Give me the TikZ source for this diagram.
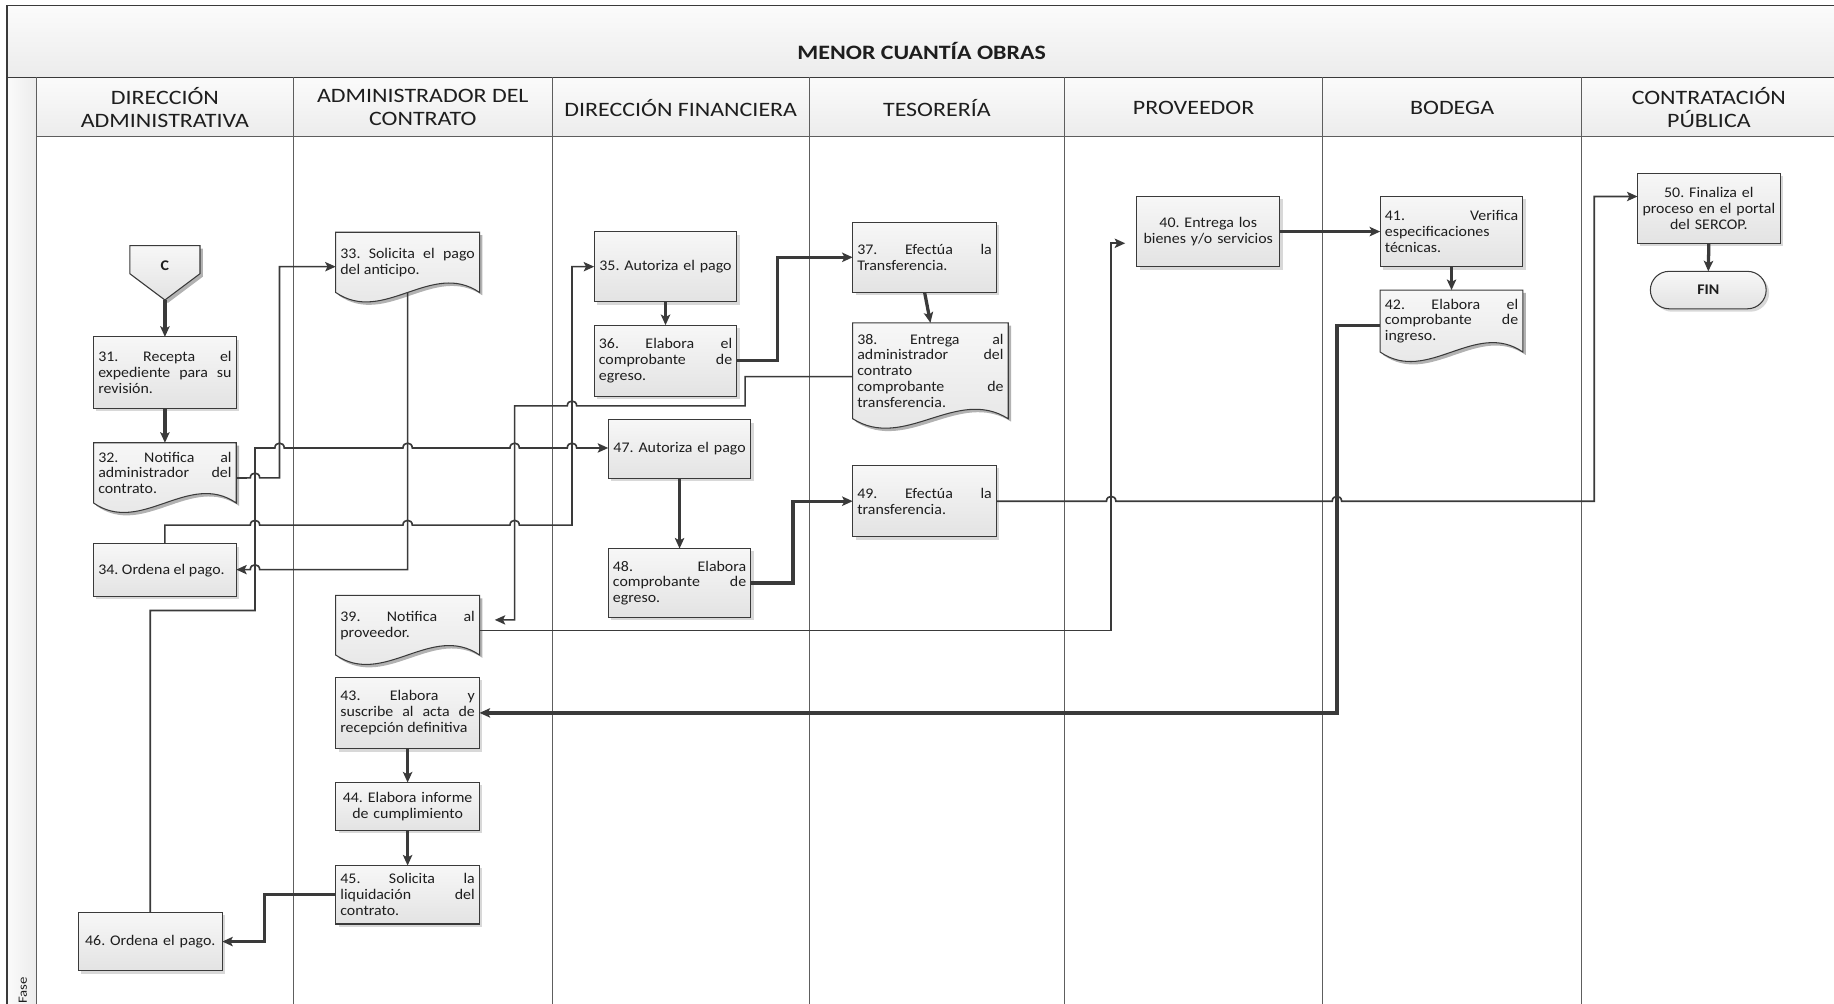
\documentclass[tikz,border=0pt]{standalone}
\usepackage{fontspec}
\setmainfont{Carlito}[FakeStretch=1.17]
\newfontfamily\boxfam{Carlito}[FakeStretch=1.08]
\usetikzlibrary{arrows.meta,shadows,calc}
\tolerance=10000 \hbadness=10000 \hyphenpenalty=10000 \exhyphenpenalty=10000
\frenchspacing
\definecolor{ink}{HTML}{3A3A3A}
\definecolor{laneline}{HTML}{5E5E5E}
\definecolor{boxtop}{HTML}{F7F7F7}
\definecolor{boxbot}{HTML}{E3E3E3}
\definecolor{headtop}{HTML}{FBFBFB}
\definecolor{headbot}{HTML}{ECECEC}
\definecolor{txt}{HTML}{1E1E1E}
\newcommand\fntbox{\boxfam\fontsize{12.6}{13.6}\selectfont\frenchspacing}
\newcommand\fnthead{\fontsize{17.5}{19.5}\selectfont}
\newcommand\fnttitle{\fontsize{17.5}{20}\selectfont\bfseries}
\newcommand\fntfase{\fontsize{10.8}{13}\selectfont}
% outline of a document shape (wavy bottom) around a node
\newcommand\docpath[1]{(#1.north west) -- (#1.south west)
  .. controls ($(#1.south west)!0.3333!(#1.south east)+(0,28)$)
  and ($(#1.south west)!0.6667!(#1.south east)+(0,-28)$) .. (#1.south east)
  -- (#1.north east) -- cycle}
\pgfdeclarelayer{lanes}
\pgfdeclarelayer{shapes}
\pgfsetlayers{lanes,shapes,main}
\tikzset{
  boxstyle/.style={rectangle, draw=ink, line width=0.9pt, top color=boxtop, bottom color=boxbot,
    drop shadow={shadow xshift=2.5pt, shadow yshift=-2.5pt, opacity=0.3},
    font=\fntbox, text=txt, inner xsep=4pt, inner ysep=1pt, outer sep=0pt},
  jbox/.style={boxstyle, align=justify},
  cbox/.style={boxstyle, align=center},
  docnode/.style={rectangle, draw=none, font=\fntbox, text=txt, inner xsep=4pt, inner ysep=1pt,
    outer sep=0pt, align=justify},
  shapefill/.style={draw=ink, line width=0.9pt, top color=boxtop, bottom color=boxbot},
  shapeshadow/.style={fill=black, opacity=0.3, transform canvas={shift={(2.5pt,-2.5pt)}}},
  flow/.style={draw=ink, line width=1.4pt, -{Stealth[length=9pt,width=8pt,inset=2pt]}},
  flowthick/.style={flow, line width=2.8pt},
  hopR/.style 2 args={insert path={-- (#1-4,#2) .. controls (#1-4,#2-5.5) and (#1+4,#2-5.5) .. (#1+4,#2)}},
  hopL/.style 2 args={insert path={-- (#1+4,#2) .. controls (#1+4,#2-5.5) and (#1-4,#2-5.5) .. (#1-4,#2)}},
  lane/.style={draw=laneline, line width=0.9pt},
  frameline/.style={draw=ink, line width=1.1pt},
  headlabel/.style={font=\fnthead, text=txt, align=center},
}
\begin{document}
\begin{tikzpicture}[x=1pt,y=-1pt]
\useasboundingbox (0,0) rectangle (1568,858);

% ---------- pool, title band, lane headers ----------
\begin{pgfonlayer}{lanes}
  \fill[white] (0,0) rectangle (1568,858);
  \shade[top color=headtop, bottom color=headbot] (6,5) rectangle (1568,66);
  \shade[top color=headtop, bottom color=headbot] (31,66) rectangle (1568,117);
  \shade[left color=headtop, right color=headbot] (6,66) rectangle (31,858);
  \draw[frameline] (1568,5) -- (6,5) -- (6,858);
  \draw[frameline] (6,66) -- (1568,66);
  \draw[lane] (31,117) -- (1568,117);
  \foreach \lx in {31,251,472,692,910,1131,1352}
    \draw[lane] (\lx,66) -- (\lx,858);
\end{pgfonlayer}

\node[font=\fnttitle, text=txt] (title) at (788,44) {MENOR CUANTÍA OBRAS};
\node[headlabel] (h1) at (141,92) {DIRECCIÓN\\ADMINISTRATIVA};
\node[headlabel] (h2) at (361.5,92) {ADMINISTRADOR DEL\\CONTRATO};
\node[headlabel] (h3) at (582,92) {DIRECCIÓN FINANCIERA};
\node[headlabel] (h4) at (801,92) {TESORERÍA};
\node[headlabel] (h5) at (1020.5,92) {PROVEEDOR};
\node[headlabel] (h6) at (1241.5,92) {BODEGA};
\node[headlabel] (h7) at (1461,92) {CONTRATACIÓN\\PÚBLICA};
\node[font=\fntfase, text=txt, rotate=90] (fase) at (19.5,847) {Fase};

% ---------- activities ----------
\node[font=\fntbox\bfseries, text=txt] (nC) at (141,227) {C};
\coordinate (cTip) at (141,256.5);

\node[jbox, text width=114pt, minimum height=61pt] (n31) at (141,318.5)
  {31. Recepta el\linebreak expediente para su\linebreak revisión.};
\node[docnode, text width=114pt, minimum height=51.5pt] (n32) at (141,404.3)
  {32. Notifica al\linebreak administrador del\linebreak contrato.};
\node[jbox, text width=114pt, minimum height=45pt] (n34) at (141,487.5)
  {34. Ordena el pago.};
\node[cbox, text width=115pt, minimum height=50pt] (n46) at (128.5,805)
  {46. Ordena el pago.};

\node[docnode, text width=115pt, minimum height=51.5pt] (n33) at (348.5,224.3)
  {33. Solicita el pago\linebreak del anticipo.};
\node[docnode, text width=115pt, minimum height=51pt] (n39) at (348.5,534.5)
  {39. Notifica al\linebreak proveedor.};
\node[jbox, text width=115pt, minimum height=61pt] (n43) at (348.5,609.5)
  {43. Elabora y\linebreak suscribe al acta de\linebreak recepción definitiva};
\node[cbox, text width=115pt, minimum height=41pt] (n44) at (348.5,689.5)
  {44. Elabora informe\\de cumplimiento};
\node[jbox, text width=115pt, minimum height=50pt] (n45) at (348.5,765)
  {45. Solicita la\linebreak liquidación del\linebreak contrato.};

\node[cbox, text width=114pt, minimum height=60pt] (n35) at (569,228)
  {35. Autoriza el pago};
\node[jbox, text width=114pt, minimum height=61pt] (n36) at (569,308.5)
  {36. Elabora el\linebreak comprobante de\linebreak egreso.};
\node[cbox, text width=114pt, minimum height=50pt] (n47) at (581,384)
  {47. Autoriza el pago};
\node[jbox, text width=114pt, minimum height=59pt] (n48) at (581,498.5)
  {48. Elabora\linebreak comprobante de\linebreak egreso.};

\node[jbox, text width=115pt, minimum height=60pt] (n37) at (790.5,220)
  {37. Efectúa la\linebreak Transferencia.};
\node[docnode, text width=125pt, minimum height=82pt] (n38) at (795.5,317)
  {38. Entrega al\linebreak administrador del\linebreak contrato\newline comprobante de\linebreak transferencia.};
\node[jbox, text width=115pt, minimum height=61pt] (n49) at (790.5,428.5)
  {49. Efectúa la\linebreak transferencia.};

\node[cbox, text width=114pt, minimum height=60pt] (n40) at (1033,198)
  {40. Entrega los\\bienes y/o servicios};

\node[jbox, text width=114pt, minimum height=60pt] (n41) at (1241,198)
  {41. Verifica\linebreak especificaciones\newline técnicas.};
\node[docnode, text width=114pt, minimum height=53pt] (n42) at (1241,274.5)
  {42. Elabora el\linebreak comprobante de\linebreak ingreso.};

\node[cbox, text width=114pt, minimum height=60pt] (n50) at (1461,178)
  {50. Finaliza el\\proceso en el portal\\del SERCOP.};
\node[boxstyle, rounded corners=16pt, minimum width=99pt, minimum height=32pt,
  font=\fntbox\bfseries] (fin) at (1460.5,248) {FIN};

% ---------- document and off-page outlines ----------
\begin{pgfonlayer}{shapes}
  \foreach \d in {n32,n33,n39,n38,n42}{
    \fill[shapeshadow] \docpath{\d};
    \shade[shapefill] \docpath{\d};
  }
  \fill[shapeshadow] (111,210) -- (171,210) -- (171,234) -- (cTip) -- (111,234) -- cycle;
  \shade[shapefill] (111,210) -- (171,210) -- (171,234) -- (cTip) -- (111,234) -- cycle;
\end{pgfonlayer}

% ---------- connectors ----------
\coordinate (p39) at (423,530);
\coordinate (p40) at (962,208);

\draw[flowthick] (cTip) -- (n31.north);
\draw[flowthick] (n31.south) -- (n32.north);
\draw[flow] ([yshift=-4.35pt]n32.east) [hopR={218}{408.6}] -- (239,408.6) -- (239,228)
  -- (n33.west |- 0,228);
\draw[flow] (n46.north) -- (n46.north |- 0,522) -- (218,522) -- (218,383)
  [hopR={239}{383}] [hopR={348.5}{383}] [hopR={440}{383}] [hopR={489}{383}]
  -- (n47.west |- 0,383);
\draw[flow] (n33.south) -- (348.5,487) [hopL={218}{487}] -- (n34.east |- 0,487);
\draw[flow] (n34.north) -- (141,449) [hopR={218}{449}] [hopR={348.5}{449}] [hopR={440}{449}]
  -- (489,449) -- (489,228) -- (n35.west);
\draw[flowthick] (n35.south) -- (n36.north);
\draw[flowthick] (n36.east) -- (665,308.5) |- (n37.west);
\draw[flowthick] (n37.south) -- (n38.north);
\draw[flow] ([yshift=-5pt]n38.west) -- (637,322) -- (637,347) [hopL={489}{347}]
  -- (440,347) -- (440,530) -- (p39);
\draw[flow] ([yshift=-4.5pt]n39.east) -- (950,539) -- (950,208) -- (p40);
\draw[flowthick] (n40.east) -- (n41.west);
\draw[flowthick] (n41.south) -- (n42.north);
\draw[flowthick] ([yshift=-3.5pt]n42.west) -- (1143,278) |- (n43.east);
\draw[flowthick] (n43.south) -- (n44.north);
\draw[flowthick] (n44.south) -- (n45.north);
\draw[flowthick] (n45.west) -- (226,765) |- (n46.east);
\draw[flowthick] (n47.south) -- (n48.north);
\draw[flowthick] (n48.east) -- (678,498.5) |- (n49.west);
\draw[flow] (n49.east) [hopR={950}{428.5}] [hopR={1143}{428.5}] -- (1363,428.5) -- (1363,168)
  -- (n50.west |- 0,168);
\draw[flowthick] (n50.south) -- (fin.north);
\end{tikzpicture}
\end{document}
